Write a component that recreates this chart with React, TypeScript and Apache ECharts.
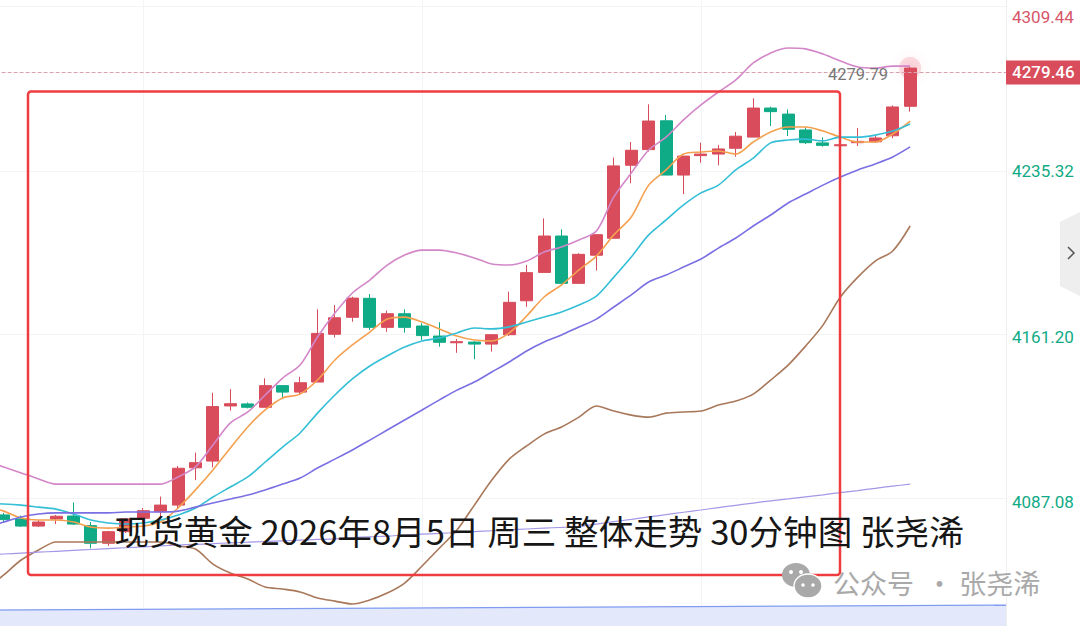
import React, { useEffect, useRef } from "react";
import * as echarts from "echarts";

const slots = Array.from({ length: 59 }, (_, i) => String(i));
const gridSlots = ["9", "25", "41"];
// [open, close, low, high]
const candles = [
  [4083.0,4081.4,4080.6,4083.8],
  [4081.3,4079.2,4077.7,4082.2],[4079.5,4076.3,4075.9,4081.0],[4076.3,4078.1,4075.9,4079.0],[4079.5,4080.7,4077.2,4081.3],
  [4080.8,4077.2,4076.8,4086.9],[4076.5,4068.6,4066.3,4078.1],[4068.6,4073.8,4067.4,4074.2],[4073.8,4079.5,4073.2,4079.9],
  [4079.8,4083.2,4078.1,4084.4],[4082.7,4085.7,4079.0,4089.5],[4085.7,4102.2,4084.4,4103.2],[4102.4,4104.7,4096.9,4109.2],
  [4105.4,4129.8,4102.6,4136.0],[4130.1,4131.1,4128.0,4137.6],[4131.0,4129.5,4129.0,4131.6],[4129.5,4139.2,4129.5,4142.5],
  [4139.2,4136.3,4133.5,4139.2],[4136.3,4140.5,4135.4,4143.2],[4140.8,4162.6,4140.8,4173.4],[4162.2,4169.6,4160.8,4175.3],
  [4169.8,4178.4,4167.8,4179.0],[4178.3,4165.3,4164.1,4180.2],[4165.3,4171.4,4163.3,4172.8],[4171.4,4165.3,4162.9,4173.4],
  [4165.9,4161.6,4159.6,4167.1],[4161.4,4158.6,4156.6,4167.6],[4158.4,4158.9,4153.9,4160.1],[4158.7,4157.8,4151.0,4159.1],
  [4157.8,4162.0,4154.4,4162.0],[4162.0,4176.5,4161.4,4181.3],[4177.2,4189.8,4174.5,4193.2],[4189.9,4206.2,4189.9,4214.1],
  [4206.2,4185.0,4185.0,4209.2],[4185.0,4198.0,4185.0,4198.5],[4197.6,4206.8,4190.7,4206.8],[4205.2,4237.6,4204.9,4241.3],
  [4237.9,4244.6,4229.8,4248.3],[4244.9,4257.7,4244.0,4265.2],[4257.8,4233.5,4233.5,4260.4],[4233.5,4242.0,4225.0,4242.0],
  [4242.2,4242.9,4239.0,4248.0],[4242.9,4245.2,4237.9,4247.0],[4245.5,4250.9,4241.7,4252.8],[4250.5,4263.5,4250.5,4267.9],
  [4263.5,4261.9,4255.5,4264.1],[4260.8,4254.0,4251.0,4262.9],[4253.7,4248.0,4247.4,4254.9],[4247.9,4246.8,4246.2,4250.4],
  [4246.6,4247.1,4246.2,4247.4],[4248.0,4248.6,4246.5,4254.6],[4248.4,4250.1,4248.0,4251.0],[4251.1,4264.0,4250.0,4264.7],
  [4264.3,4281.4,4261.9,4282.0],
];
const ma5 = [4085.0,4083.0,4079.9,4079.0,4079.0,4078.1,4075.9,4075.4,4075.9,4076.3,4078.1,4084.4,4092.5,4101.4,4111.3,4120.7,4128.3,4133.7,4135.4,4141.7,4150.7,4157.4,4163.2,4169.0,4169.9,4167.7,4164.6,4161.4,4159.6,4159.2,4162.8,4170.4,4178.9,4184.3,4191.0,4197.2,4206.7,4214.7,4229.0,4235.8,4242.9,4243.8,4244.3,4242.9,4248.3,4252.8,4255.0,4255.0,4253.2,4250.5,4248.3,4248.3,4251.9,4257.7];
const ma10 = [4086.4,4086.2,4085.7,4084.8,4083.9,4081.7,4079.0,4077.7,4077.2,4077.7,4079.0,4081.3,4084.4,4089.3,4093.8,4098.3,4105.0,4111.7,4118.0,4126.9,4135.0,4142.2,4148.0,4152.5,4156.5,4159.2,4160.5,4162.8,4165.0,4164.6,4165.5,4167.7,4169.9,4172.2,4175.3,4179.3,4187.8,4196.8,4206.7,4213.4,4220.1,4225.5,4229.0,4235.8,4241.1,4247.9,4249.2,4249.6,4248.8,4250.5,4250.5,4251.4,4253.2,4256.4];
const ma20 = [4075.6,4078.1,4080.4,4081.7,4082.2,4082.2,4082.2,4082.2,4082.6,4082.6,4082.6,4083.0,4084.8,4086.6,4088.4,4090.2,4092.5,4095.1,4097.8,4102.3,4106.3,4110.4,4114.8,4119.3,4123.8,4128.3,4132.8,4137.2,4140.8,4145.3,4149.8,4154.7,4158.7,4161.9,4165.5,4169.0,4174.4,4179.8,4185.6,4188.7,4192.3,4195.9,4200.8,4205.3,4210.7,4215.6,4221.0,4225.0,4229.0,4232.6,4235.8,4238.5,4241.6,4246.1];
const bollUpper = [4105.4,4102.8,4100.1,4097.4,4095.1,4095.1,4095.1,4095.1,4095.1,4095.1,4095.1,4098.3,4102.8,4112.6,4122.5,4127.4,4135.0,4142.6,4148.4,4161.0,4171.7,4180.7,4186.5,4193.2,4197.7,4199.9,4199.9,4198.6,4196.4,4193.7,4193.2,4195.0,4199.0,4201.3,4204.4,4208.4,4223.7,4234.4,4244.7,4250.5,4258.2,4264.9,4270.7,4276.1,4283.7,4288.2,4290.4,4290.0,4287.7,4284.6,4281.9,4281.4,4282.3,4282.3];
const bollLower = [4048.0,4054.4,4061.1,4065.6,4069.2,4069.2,4069.2,4069.2,4069.2,4069.2,4069.2,4067.4,4066.0,4059.3,4055.3,4052.6,4049.0,4048.1,4046.8,4044.1,4042.7,4041.4,4043.2,4046.3,4050.8,4058.4,4066.5,4074.5,4085.7,4096.9,4106.3,4112.2,4117.5,4120.7,4125.1,4130.1,4127.8,4126.0,4125.1,4126.9,4127.4,4127.8,4130.5,4132.3,4135.4,4141.7,4148.4,4156.9,4166.3,4178.9,4187.8,4195.0,4199.5,4210.7];
const maLong = [4063.4,4063.8,4064.2,4064.6,4065.0,4065.4,4065.8,4066.2,4066.6,4067.0,4067.4,4067.8,4068.1,4068.4,4068.8,4069.1,4069.4,4069.7,4070.0,4070.3,4070.6,4071.1,4071.5,4071.8,4072.3,4072.7,4073.0,4073.4,4073.8,4074.2,4074.6,4075.0,4075.4,4075.7,4076.1,4077.2,4078.3,4079.3,4080.4,4081.4,4082.5,4083.5,4084.6,4085.6,4086.6,4087.6,4088.5,4089.4,4090.3,4091.3,4092.2,4093.2,4094.2,4095.1];
const baseline = [[0, 4038.7],[1, 4040.9]];
const axisTicks = [4087.08, 4161.2, 4235.32];
const gridTicks = [4308.9, 4235.32, 4162.1, 4088.6];
const lastPrice = 4279.46;
const title = "现货黄金 2026年8月5日 周三 整体走势 30分钟图 张尧浠";

const RED = "#d94c5b";
const GREEN = "#0faa86";
const OFFSET = 23;

const line = (name: string, data: number[], color: string, width = 1.6) => ({
  name, type: "line", data, symbol: "none", smooth: 0.3, z: 5,
  lineStyle: { color, width }, silent: true,
});

export default function App() {
  const ref = useRef<HTMLDivElement>(null);
  useEffect(() => {
    const chart = echarts.init(ref.current!, undefined, { renderer: "svg" });
    const font = "Roboto, 'Noto Sans CJK SC', sans-serif";
    chart.setOption({
      animation: false,
      backgroundColor: "#fff",
      grid: { left: 0.6, right: 74, top: 0, bottom: 0, containLabel: false },
      xAxis: [
        {
          type: "category", data: slots, boundaryGap: true,
          axisLine: { show: false }, axisLabel: { show: false },
          axisTick: { show: false }, splitLine: { show: false },
        },
        { type: "value", min: 0, max: 1, show: false },
      ],
      yAxis: [
        {
          type: "value", position: "right", min: 4031.55, max: 4311.9, scale: true,
          axisLine: { show: true, onZero: false, lineStyle: { color: "#eeeeee" } },
          axisTick: { show: false, customValues: axisTicks },
          splitLine: { show: false },
          axisLabel: {
            show: true, customValues: axisTicks, margin: 6, color: GREEN, fontSize: 17, fontFamily: font,
            formatter: (v: number) => v.toFixed(2),
          },
        },
        {
          type: "value", position: "right", min: 4031.55, max: 4311.9, scale: true,
          axisLine: { show: false }, axisLabel: { show: false },
          axisTick: { show: false, customValues: gridTicks },
          splitLine: { show: true, lineStyle: { color: "#f4f4f6", width: 1 } },
        },
      ],
      series: [
        {
          name: "网格", type: "line", data: slots.map(() => null), symbol: "none", z: 0,
          lineStyle: { width: 0 }, silent: true,
          markLine: {
            silent: true, symbol: "none", animation: false, z: 0,
            lineStyle: { color: "#f4f4f6", type: "solid", width: 1 },
            label: { show: false },
            data: gridSlots.map((s) => ({ xAxis: s })),
          },
        },
        {
          name: "基线", type: "line", xAxisIndex: 1, yAxisIndex: 0, data: baseline, symbol: "none", z: 1,
          lineStyle: { color: "#7f9cf0", width: 1.2 },
          areaStyle: { color: "#e3e8fb", origin: "start", opacity: 1 },
        },
        {
          name: "现货黄金", type: "candlestick", data: candles, barWidth: 12.5, z: 3,
          itemStyle: { color: RED, color0: GREEN, borderColor: RED, borderColor0: GREEN, borderWidth: 1 },
          markLine: {
            silent: true, symbol: "none", animation: false,
            lineStyle: { color: "#d9a2ad", type: "dashed", width: 1 },
            data: [{ yAxis: lastPrice }],
            label: {
              show: true, position: "end", distance: 0, formatter: lastPrice.toFixed(2),
              backgroundColor: RED, color: "#fff", fontSize: 17, fontWeight: 500, fontFamily: font,
              padding: [4, 6, 3, 6],
            },
          },
        },
        line("MA5", ma5, "#f5a04f"),
        line("MA10", ma10, "#34bfd6"),
        line("MA20", ma20, "#7a6fe3"),
        line("BOLL上轨", bollUpper, "#d387c9"),
        line("BOLL下轨", bollLower, "#a9785a"),
        line("MA200", maLong, "#a397e6", 1.2),
        {
          name: "最新", type: "scatter", data: [[53, candles[53][1]]], symbolSize: 22, z: 2,
          itemStyle: { color: "rgba(238,110,130,0.28)", shadowBlur: 8, shadowColor: "rgba(238,110,130,0.5)" },
        },
      ],
      graphic: [{
        type: "group", x: OFFSET, y: 0, z: 50,
        children: [
          { type: "rect", z: 50, shape: { x: 28, y: 91.5, width: 812, height: 483.5, r: 3 }, style: { fill: "none", stroke: "#ef3c40", lineWidth: 2.5 } },
          { type: "text", z: 60, x: 114.5, y: 529.5, style: { text: title, fill: "#161616", font: "34.6px 'Noto Sans CJK SC'", verticalAlign: "middle" } },
          { type: "text", z: 60, x: 1012, y: 17, style: { text: "4309.44", fill: "#d6566a", font: `17px ${font}`, verticalAlign: "middle" } },
          { type: "text", z: 60, x: 828, y: 74, style: { text: "4279.79", fill: "#777", font: `16.5px ${font}`, verticalAlign: "middle" } },
          { type: "polygon", z: 60, shape: { points: [[1060, 222], [1080, 212], [1080, 296], [1060, 286]] }, style: { fill: "#eeeeef" } },
          { type: "polyline", z: 61, shape: { points: [[1068, 247], [1074, 253], [1068, 259]] }, style: { fill: "none", stroke: "#555", lineWidth: 1.5 } },
          { type: "ellipse", z: 60, shape: { cx: 796, cy: 575, rx: 14, ry: 12 }, style: { fill: "#a9a9a9" } },
          { type: "ellipse", z: 61, shape: { cx: 808, cy: 586, rx: 14, ry: 12 }, style: { fill: "#a9a9a9", stroke: "#fff", lineWidth: 1.5 } },
          { type: "circle", z: 62, shape: { cx: 791, cy: 572, r: 2 }, style: { fill: "#fff" } },
          { type: "circle", z: 62, shape: { cx: 801, cy: 572, r: 2 }, style: { fill: "#fff" } },
          { type: "circle", z: 62, shape: { cx: 803, cy: 585, r: 1.8 }, style: { fill: "#fff" } },
          { type: "circle", z: 62, shape: { cx: 813, cy: 585, r: 1.8 }, style: { fill: "#fff" } },
          { type: "text", z: 60, x: 833, y: 582, style: { text: "公众号  · 张尧浠", fill: "#a9a9a9", font: "27px 'Noto Sans CJK SC'", verticalAlign: "middle" } },
        ],
      }],
    });
    return () => chart.dispose();
  }, []);
  return <div ref={ref} style={{ position: "fixed", left: -OFFSET, top: 0, width: 1080 + OFFSET, height: 626 }} />;
}
